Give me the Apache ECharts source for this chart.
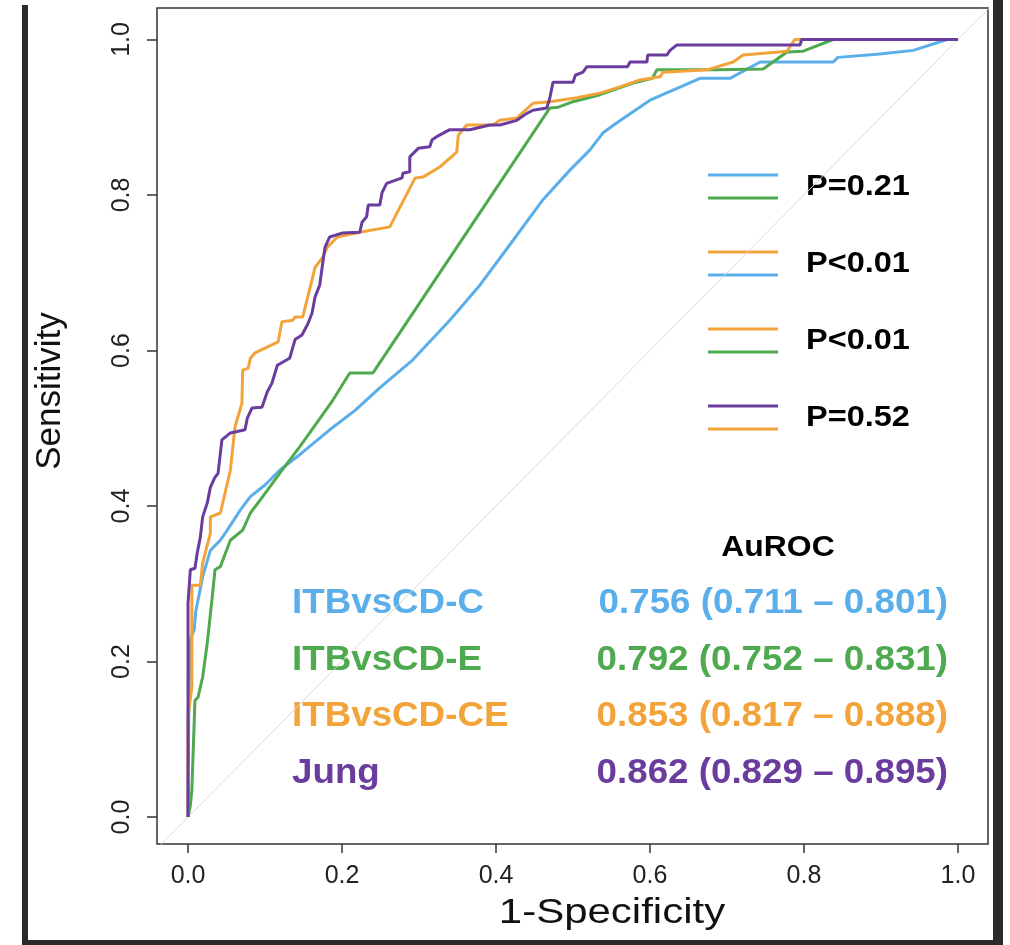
<!DOCTYPE html>
<html><head><meta charset="utf-8">
<script src="https://cdn.jsdelivr.net/npm/echarts@6/dist/echarts.min.js"></script>
<style>html,body{margin:0;padding:0;background:#fff}#c{width:1010px;height:945px}</style>
</head><body><div id="c"></div>
<script>
// ---- data ----
const tickValues = [0, 0.2, 0.4, 0.6, 0.8, 1.0];
const xTitle = '1-Specificity';
const yTitle = 'Sensitivity';
const seriesNames = ['ITBvsCD-C', 'ITBvsCD-E', 'ITBvsCD-CE', 'Jung'];
const aurocTexts = ['0.756 (0.711 – 0.801)', '0.792 (0.752 – 0.831)', '0.853 (0.817 – 0.888)', '0.862 (0.829 – 0.895)'];
const pTexts = ['P=0.21', 'P<0.01', 'P<0.01', 'P=0.52'];
const pPairs = [[0, 1], [2, 0], [2, 1], [3, 2]];

const itbC = [[0,0],[0,0.006],[0.001,0.150],[0.003,0.228],[0.008,0.241],[0.010,0.264],[0.019,0.309],[0.029,0.343],[0.042,0.356],[0.051,0.369],[0.068,0.395],[0.081,0.412],[0.100,0.427],[0.119,0.446],[0.145,0.466],[0.184,0.498],[0.217,0.523],[0.249,0.552],[0.292,0.588],[0.340,0.639],[0.379,0.684],[0.418,0.736],[0.461,0.794],[0.496,0.832],[0.522,0.858],[0.539,0.880],[0.557,0.893],[0.600,0.922],[0.665,0.950],[0.704,0.950],[0.743,0.971],[0.838,0.971],[0.844,0.977],[0.895,0.981],[0.942,0.986],[0.986,1.0],[1,1]];
const itbE = [[0,0],[0.003,0.015],[0.005,0.035],[0.009,0.150],[0.013,0.154],[0.019,0.180],[0.025,0.224],[0.032,0.288],[0.035,0.318],[0.042,0.322],[0.055,0.356],[0.071,0.369],[0.081,0.391],[0.097,0.412],[0.119,0.442],[0.145,0.476],[0.188,0.536],[0.210,0.571],[0.240,0.571],[0.470,0.912],[0.481,0.913],[0.500,0.920],[0.535,0.929],[0.578,0.944],[0.603,0.950],[0.609,0.961],[0.687,0.961],[0.747,0.962],[0.778,0.984],[0.799,0.985],[0.838,1.0],[1,1]];
const itbCE = [[0,0],[0,0.009],[0,0.129],[0.005,0.167],[0.005,0.298],[0.016,0.298],[0.019,0.327],[0.029,0.365],[0.029,0.386],[0.042,0.391],[0.055,0.446],[0.061,0.502],[0.070,0.532],[0.071,0.575],[0.078,0.577],[0.081,0.590],[0.087,0.597],[0.117,0.611],[0.122,0.637],[0.136,0.639],[0.139,0.643],[0.149,0.643],[0.165,0.707],[0.175,0.720],[0.181,0.733],[0.194,0.746],[0.223,0.752],[0.262,0.759],[0.295,0.822],[0.305,0.823],[0.327,0.836],[0.349,0.855],[0.351,0.877],[0.362,0.890],[0.396,0.890],[0.405,0.896],[0.427,0.899],[0.448,0.918],[0.470,0.920],[0.505,0.925],[0.535,0.931],[0.561,0.939],[0.587,0.948],[0.613,0.952],[0.617,0.958],[0.674,0.961],[0.708,0.971],[0.721,0.980],[0.778,0.985],[0.788,1.0],[1,1]];
const jung = [[0,0],[0,0.048],[0,0.275],[0.003,0.318],[0.009,0.320],[0.012,0.340],[0.016,0.360],[0.019,0.386],[0.025,0.404],[0.029,0.424],[0.035,0.437],[0.039,0.442],[0.044,0.485],[0.055,0.494],[0.074,0.498],[0.077,0.513],[0.083,0.526],[0.096,0.527],[0.103,0.547],[0.109,0.558],[0.116,0.581],[0.132,0.590],[0.139,0.614],[0.148,0.620],[0.156,0.635],[0.161,0.648],[0.165,0.669],[0.171,0.684],[0.175,0.713],[0.178,0.733],[0.184,0.746],[0.200,0.751],[0.223,0.752],[0.226,0.765],[0.232,0.772],[0.234,0.787],[0.249,0.787],[0.252,0.803],[0.258,0.815],[0.278,0.822],[0.279,0.828],[0.288,0.830],[0.288,0.849],[0.299,0.860],[0.314,0.862],[0.317,0.871],[0.323,0.875],[0.340,0.884],[0.366,0.884],[0.392,0.890],[0.405,0.890],[0.427,0.896],[0.440,0.905],[0.448,0.909],[0.466,0.912],[0.470,0.925],[0.474,0.945],[0.500,0.945],[0.503,0.954],[0.513,0.958],[0.518,0.965],[0.571,0.965],[0.574,0.971],[0.596,0.971],[0.597,0.980],[0.622,0.980],[0.626,0.986],[0.635,0.993],[0.795,0.993],[0.797,1.0],[1,1]];
const diagonal = [[-0.1,-0.1],[1.1,1.1]];

// ---- styles ----
const colors = ['#5aaeea', '#4ea94f', '#f2a33a', '#6a3c9e'];
const FONT = 'Liberation Sans, Arial, sans-serif';
const chart = echarts.init(document.getElementById('c'));

const curves = [itbC, itbE, itbCE, jung];
const series = [{
  type: 'line', data: diagonal, showSymbol: false, silent: true, z: 1,
  lineStyle: { color: '#d8d8d8', width: 1 }
}].concat(curves.map((d, i) => ({
  name: seriesNames[i], type: 'line', data: d, showSymbol: false, z: 2 + i,
  lineStyle: { color: colors[i], width: 3 }
})));

const graphics = [];
// frame bars
graphics.push({ type: 'rect', shape: { x: 22, y: 5, width: 6, height: 940 }, style: { fill: '#2b2b2b' }, silent: true });
graphics.push({ type: 'rect', shape: { x: 993, y: 0, width: 10, height: 945 }, style: { fill: '#2b2b2b' }, silent: true });
graphics.push({ type: 'rect', shape: { x: 22, y: 940, width: 981, height: 5 }, style: { fill: '#2b2b2b' }, silent: true });
// axis titles
graphics.push({ type: 'text', x: 50, y: 391, rotation: Math.PI / 2, style: { text: yTitle, font: '35px ' + FONT, fill: '#111', align: 'center', verticalAlign: 'middle' } });
graphics.push({ type: 'text', x: 612, y: 913, scaleX: 1.2, originX: 0, originY: 0, style: { text: xTitle, font: '35px ' + FONT, fill: '#111', align: 'center', verticalAlign: 'middle' } });
// p-value legend
const pY = [187, 264, 341, 418];
pPairs.forEach((pair, k) => {
  const yc = pY[k];
  graphics.push({ type: 'line', shape: { x1: 708, y1: yc - 12, x2: 778, y2: yc - 12 }, style: { stroke: colors[pair[0]], lineWidth: 3 } });
  graphics.push({ type: 'line', shape: { x1: 708, y1: yc + 11, x2: 778, y2: yc + 11 }, style: { stroke: colors[pair[1]], lineWidth: 3 } });
  graphics.push({ type: 'text', x: 806, y: yc, scaleX: 1.12, originX: 0, originY: 0, style: { text: pTexts[k], font: 'bold 29px ' + FONT, fill: '#000', align: 'left', verticalAlign: 'middle' } });
});
// AuROC table
graphics.push({ type: 'text', x: 778, y: 548, scaleX: 1.1, originX: 0, originY: 0, style: { text: 'AuROC', font: 'bold 29px ' + FONT, fill: '#000', align: 'center', verticalAlign: 'middle' } });
const rowY = [603, 660, 716, 773];
seriesNames.forEach((n, i) => {
  graphics.push({ type: 'text', x: 292, y: rowY[i], scaleX: 1.05, originX: 0, originY: 0, style: { text: n, font: 'bold 35px ' + FONT, fill: colors[i], align: 'left', verticalAlign: 'middle' } });
  graphics.push({ type: 'text', x: 948, y: rowY[i], scaleX: 1.05, originX: 0, originY: 0, style: { text: aurocTexts[i], font: 'bold 35px ' + FONT, fill: colors[i], align: 'right', verticalAlign: 'middle' } });
});

chart.setOption({
  animation: false,
  backgroundColor: '#fff',
  grid: { left: 157, top: 8, width: 831, height: 836, show: true, borderColor: '#333', borderWidth: 1.5, backgroundColor: 'transparent' },
  xAxis: {
    type: 'value', min: -0.0403, max: 1.039,
    axisLine: { show: false, onZero: false },
    splitLine: { show: false },
    axisTick: { show: true, inside: false, length: 9, customValues: tickValues, lineStyle: { color: '#333', width: 1.5 } },
    axisLabel: { customValues: tickValues, formatter: v => v.toFixed(1), fontFamily: FONT, fontSize: 25, color: '#222', margin: 20 }
  },
  yAxis: {
    type: 'value', min: -0.0347, max: 1.0405,
    axisLine: { show: false, onZero: false },
    splitLine: { show: false },
    axisTick: { show: true, inside: false, length: 10, customValues: tickValues, lineStyle: { color: '#333', width: 1.5 } },
    axisLabel: { customValues: tickValues, formatter: v => v.toFixed(1), rotate: 90, fontFamily: FONT, fontSize: 25, color: '#222', margin: 22 }
  },
  series: series,
  graphic: { elements: graphics }
});
</script></body></html>
